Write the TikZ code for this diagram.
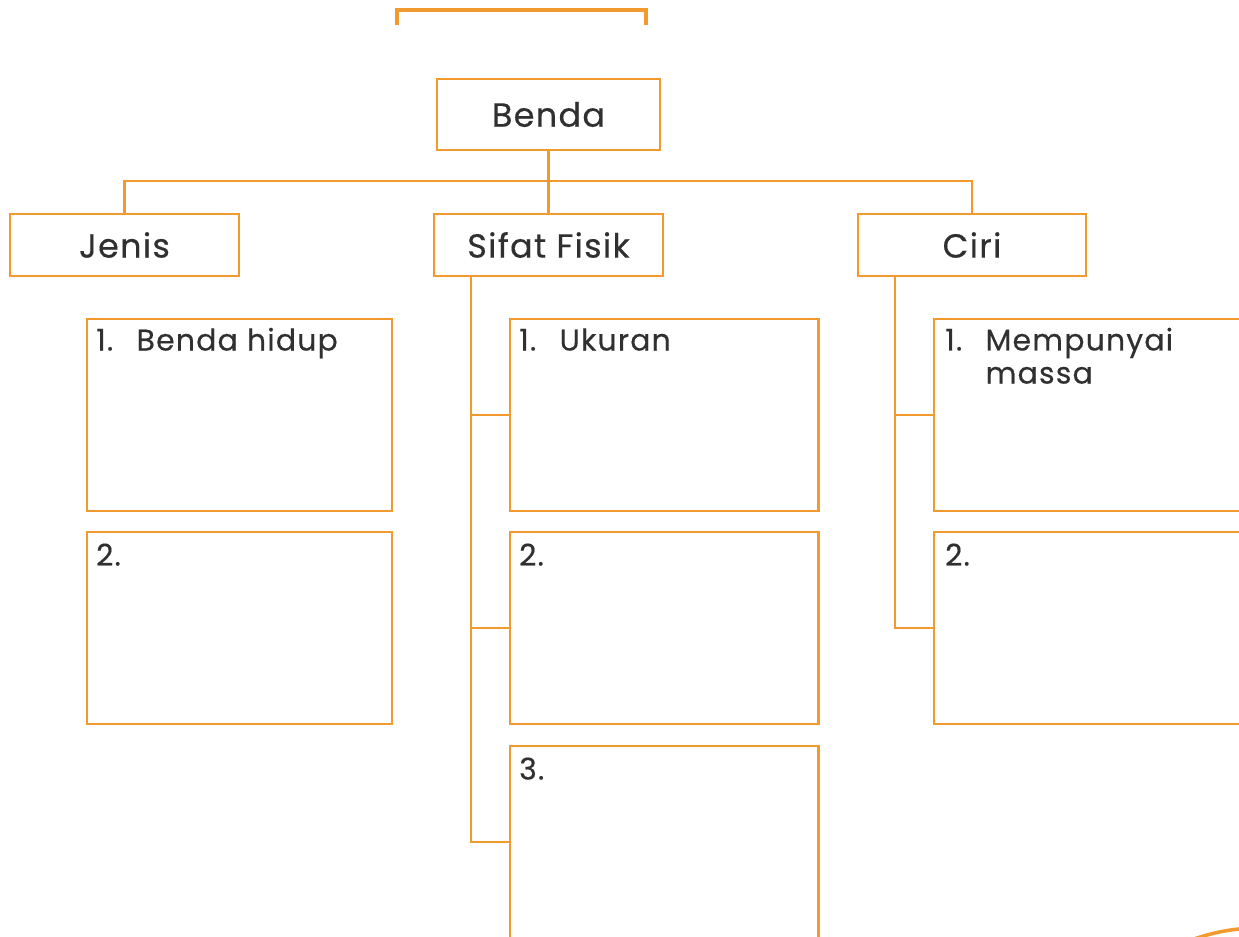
\documentclass[tikz,border=0pt]{standalone}
\usepackage{fontspec}
\setmainfont{Poppins}[FakeBold=0.4]
\definecolor{oranye}{HTML}{F39A2E}
\definecolor{teks}{HTML}{303030}
\newcommand{\butir}[2]{\makebox[11.5pt][l]{#1}#2}
\tikzset{
	kepala/.style={draw=oranye, line width=0.8pt, text=teks, inner sep=0pt,
		font=\fontsize{9.5}{11}\selectfont\addfontfeature{LetterSpace=4}},
	isian/.style={draw=oranye, line width=0.8pt, inner sep=0pt,
		minimum width=3.05cm, minimum height=1.92cm},
	tulis/.style={anchor=base west, inner sep=0pt, text=teks, align=left,
		font=\fontsize{8.5}{9.4}\selectfont\addfontfeature{LetterSpace=4}},
	garis/.style={draw=oranye, line width=0.8pt}
}
\begin{document}
\begin{tikzpicture}[x=0.01cm, y=-0.01cm]
			\useasboundingbox (0,0) rectangle (1239,937);
			\clip (0,0) rectangle (1239,937);
			\draw [garis, line width=1pt] (397,25) |- (646,10) -- (646,25);
			\node[kepala, minimum width=2.23cm, minimum height=0.71cm] (benda) at (548.5,114.5) {Benda};
			\node[kepala, minimum width=2.29cm, minimum height=0.62cm] (jenis) at (124.5,245) {Jenis};
			\node[kepala, minimum width=2.29cm, minimum height=0.62cm] (sifat) at (548.5,245) {Sifat Fisik};
			\node[kepala, minimum width=2.28cm, minimum height=0.62cm] (ciri) at (972,245) {Ciri};
			\coordinate (palang) at (0,181);
			\draw [garis] (benda.south) -- (sifat.north);
			\draw [garis] (jenis.north) -- (jenis.north |- palang) -- (ciri.north |- palang) -- (ciri.north);
			\node[isian] (j1) at (239.5,415) {};
			\node[isian] (j2) at (239.5,628) {};
			\node[isian, minimum width=3.08cm] (s1) at (664,415) {};
			\node[isian, minimum width=3.08cm] (s2) at (664,628) {};
			\node[isian, minimum width=3.08cm] (s3) at (664,842) {};
			\node[isian, minimum width=3.08cm] (c1) at (1088,415) {};
			\node[isian, minimum width=3.08cm] (c2) at (1088,628) {};
			\node[tulis] (j1t) at ([shift={(10,33)}]j1.north west) {\butir{1.}{Benda hidup}};
			\node[tulis] (j2t) at ([shift={(10,35)}]j2.north west) {2.};
			\node[tulis] (s1t) at ([shift={(10,33)}]s1.north west) {\butir{1.}{Ukuran}};
			\node[tulis] (s2t) at ([shift={(10,35)}]s2.north west) {2.};
			\node[tulis] (s3t) at ([shift={(10,35)}]s3.north west) {3.};
			\node[tulis] (c1t) at ([shift={(12,66)}]c1.north west) {\butir{1.}{Mempunyai}\\\hspace*{11.5pt}massa};
			\node[tulis] (c2t) at ([shift={(12,35)}]c2.north west) {2.};
			\coordinate (akarS) at (471,0);
			\coordinate (akarC) at (895,0);
			\draw [garis] (sifat.south -| akarS) |- (s3.west);
			\draw [garis] (s1.west -| akarS) -- (s1.west);
			\draw [garis] (s2.west -| akarS) -- (s2.west);
			\draw [garis] (ciri.south -| akarC) |- (c2.west);
			\draw [garis] (c1.west -| akarC) -- (c1.west);
			\draw [garis, line width=1pt] (1260,1128) circle (2cm);
\end{tikzpicture}
\end{document}
